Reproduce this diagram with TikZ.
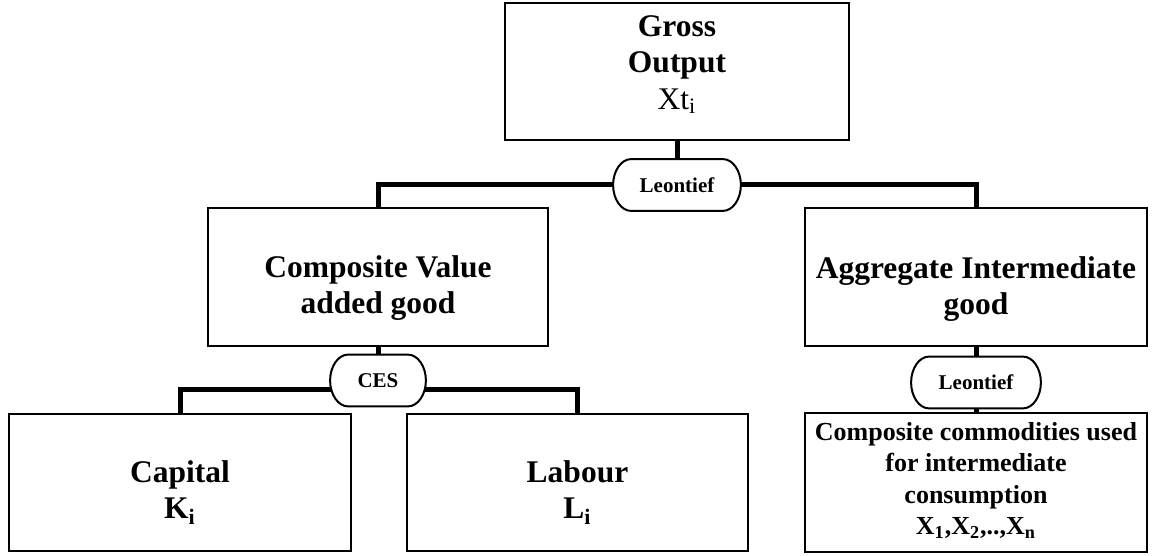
\documentclass[tikz,border=0pt]{standalone}
\usepackage{fontspec}
\setmainfont{Liberation Serif}
\usetikzlibrary{backgrounds}
\begin{document}
\begin{tikzpicture}[x=0.5pt,y=-0.5pt,
  box/.style={draw,line width=1pt,inner sep=0pt,fill=white},
  pill/.style={inner sep=0pt,minimum height=25.5pt,font=\fontsize{10.5}{12}\selectfont\bfseries},
  pillborder/.style={line width=1pt,fill=white},
  conn/.style={line width=2.5pt},
  bigtext/.style={font=\fontsize{15.75}{18.25}\selectfont\bfseries,align=center,inner sep=0pt,anchor=north},
  smalltext/.style={font=\fontsize{13}{15.75}\selectfont\bfseries,align=center,inner sep=0pt,anchor=north}]
\useasboundingbox (0,0) rectangle (1158,556);
% boxes
\node[box,minimum width=172pt,minimum height=68.5pt] (gross) at (677,71.5) {};
\node[bigtext] (grosst) at (677,15) {Gross\\Output\\{\mdseries Xt\textsubscript{i}}};
\node[pill,minimum width=63.5pt] (lt) at (677,185) {Leontief};
\node[box,minimum width=170pt,minimum height=69pt] (comp) at (378,277) {};
\node[bigtext] (compt) at (378,255) {Composite Value\\added good};
\node[box,minimum width=171pt,minimum height=69pt] (agg) at (976,277) {};
\node[bigtext] (aggt) at (976,256) {Aggregate Intermediate\\good};
\node[pill,minimum width=47.5pt] (ces) at (378,380.5) {CES};
\node[box,minimum width=171pt,minimum height=68.5pt] (cap) at (180,482.5) {};
\node[bigtext] (capt) at (180,460) {Capital\\K\textsubscript{i}};
\node[box,minimum width=170.5pt,minimum height=68.5pt] (lab) at (577.5,482.5) {};
\node[bigtext] (labt) at (577.5,460) {Labour\\L\textsubscript{i}};
\node[pill,minimum width=64.5pt] (lr) at (976,382.5) {Leontief};
\node[box,minimum width=171pt,minimum height=69.5pt] (comm) at (976,482.5) {};
\node[smalltext] (commt) at (976,422) {Composite commodities used\\for intermediate\\consumption\\X\textsubscript{1},X\textsubscript{2},..,X\textsubscript{n}};
% connectors and pill outlines
\begin{scope}[on background layer]
\fill[white] (0,0) rectangle (1158,556);
\draw[conn] (gross.south) -- (lt.north);
\draw[conn] (comp.north) |- (lt.west);
\draw[conn] (agg.north) |- (lt.east);
\draw[conn] (comp.south) -- (ces.north);
\draw[conn] (cap.north) -- ++(0,-24) -| (lab.north);
\draw[conn] (agg.south) -- (lr.north);
\draw[conn] (lr.south) -- (comm.north);
\foreach \p in {lt,ces,lr}
  \draw[pillborder] ([xshift=9pt]\p.north west) -- ([xshift=-9pt]\p.north east)
    .. controls ([xshift=-4pt]\p.north east) and ([yshift=7pt]\p.east) .. (\p.east)
    .. controls ([yshift=-7pt]\p.east) and ([xshift=-4pt]\p.south east) .. ([xshift=-9pt]\p.south east)
    -- ([xshift=9pt]\p.south west)
    .. controls ([xshift=4pt]\p.south west) and ([yshift=-7pt]\p.west) .. (\p.west)
    .. controls ([yshift=7pt]\p.west) and ([xshift=4pt]\p.north west) .. ([xshift=9pt]\p.north west)
    -- cycle;
\end{scope}
\end{tikzpicture}
\end{document}
